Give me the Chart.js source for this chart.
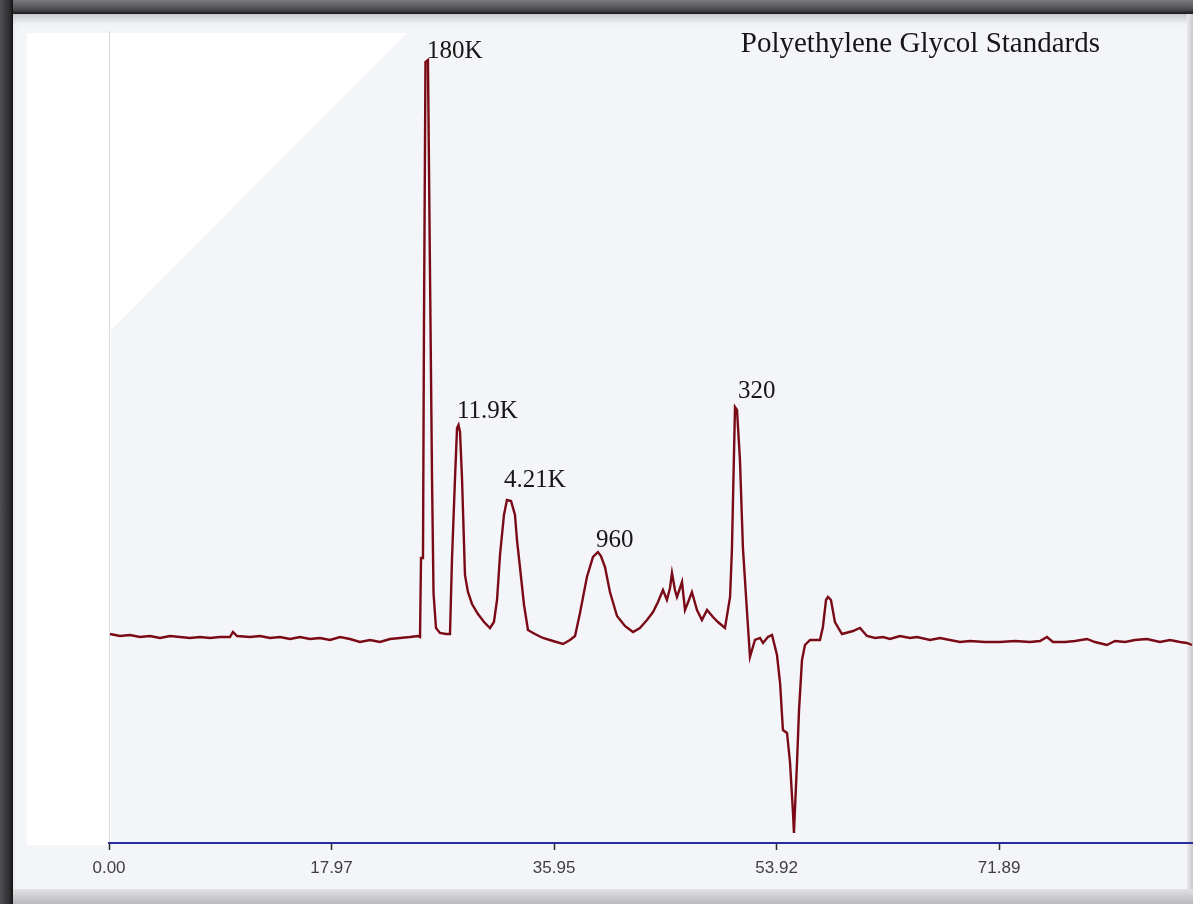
<!DOCTYPE html>
<html>
<head>
<meta charset="utf-8">
<title>Polyethylene Glycol Standards</title>
<script src="https://cdn.jsdelivr.net/npm/chart.js@4.4.1/dist/chart.umd.min.js"></script>
<style>
  html, body { margin: 0; padding: 0; }
  body { width: 1193px; height: 904px; overflow: hidden; position: relative; background: #5a5a5e; }
  .abs { position: absolute; }
  #frameTop { left: 0; top: 0; width: 1193px; height: 14px; background: linear-gradient(#7a7a7f, #4a4a4e 70%, #161616); }
  #frameLeft { left: 0; top: 0; width: 13px; height: 904px; background: linear-gradient(90deg, #505054, #2c2c2e 75%, #121212); }
  #panel { left: 13px; top: 14px; width: 1180px; height: 876px; background: #f4f5f8; box-shadow: inset 0 8px 10px -4px rgba(0,0,0,0.22); }
  #frameRight { left: 1187px; top: 14px; width: 6px; height: 876px; background: linear-gradient(90deg, #ececee, #c8c8cc); }
  #frameBottom { left: 13px; top: 889px; width: 1180px; height: 15px; background: linear-gradient(#e2e2e5, #b8b8bd); }
  #whiteArea { left: 27px; top: 33px; width: 380px; height: 812px; background: #ffffff;
    clip-path: polygon(0 0, 380px 0, 84px 297px, 84px 812px, 0 812px); }
  #wrap { left: 0; top: 0; width: 1193px; height: 904px; }
</style>
</head>
<body>
<div id="frameTop" class="abs"></div>
<div id="frameLeft" class="abs"></div>
<div id="panel" class="abs"></div>
<div id="frameRight" class="abs"></div>
<div id="frameBottom" class="abs"></div>
<div id="whiteArea" class="abs"></div>
<div id="wrap" class="abs"><canvas id="gpc"></canvas></div>
<script>
// Chromatogram trace (retention time vs. detector signal)
const retentionTimes = [
  0.08, 0.89, 1.70, 2.50, 3.31, 4.12, 4.93, 5.73, 6.54, 7.35,
  8.16, 8.96, 9.77, 10.01, 10.34, 11.39, 12.20, 13.00, 13.81, 14.62,
  15.43, 16.23, 17.04, 17.85, 18.66, 19.46, 20.27, 21.08, 21.89, 22.69,
  23.50, 24.31, 24.96,
  25.12, 25.20, 25.36, 25.44, 25.56, 25.76, 25.92, 26.09, 26.21, 26.41,
  26.73, 27.22, 27.54, 27.70, 27.94, 28.11, 28.23, 28.35, 28.51, 28.75,
  28.99, 29.32, 29.80, 30.29, 30.77, 31.09, 31.34, 31.58, 31.90, 32.14,
  32.47, 32.79, 32.95, 33.19, 33.52, 33.84, 34.40, 35.05, 35.86, 36.67,
  37.23, 37.64, 38.04, 38.60, 39.09, 39.49, 39.73, 40.06, 40.46, 41.03,
  41.67, 42.32, 42.88, 43.45, 43.94, 44.34, 44.74, 45.06, 45.31, 45.47,
  45.71, 45.87, 46.12, 46.28, 46.52, 46.84, 47.08, 47.49, 47.89, 48.30,
  48.78, 49.18, 49.75, 50.16, 50.31, 50.56, 50.72, 50.96, 51.20, 51.53,
  51.77, 52.17, 52.58, 52.82, 53.22, 53.55, 53.95, 54.20, 54.43, 54.76,
  55.00, 55.24, 55.32, 55.57, 55.73, 55.97, 56.21, 56.62, 57.02, 57.42,
  57.66, 57.91, 58.07, 58.31, 58.63, 59.20, 60.09, 60.65, 61.22, 61.87,
  62.51, 63.08, 63.88, 64.69, 65.26, 66.31, 67.11, 67.92, 68.73, 69.54,
  70.75, 71.96, 73.17, 74.38, 75.19, 75.76, 76.24, 77.21, 78.02, 78.99,
  79.63, 80.60, 81.25, 82.06, 82.86, 83.83, 84.88, 85.69, 86.50, 87.06,
  87.47
];
const signal = [
  1.5, 1.0, 1.25, 0.75, 1.0, 0.5, 1.0, 0.75, 0.5, 0.75,
  0.5, 0.75, 0.75, 2.0, 1.0, 0.75, 1.0, 0.5, 0.75, 0.25,
  0.75, 0.25, 0.5, 0, 0.75, 0.25, -0.5, 0, -0.5, 0.25,
  0.5, 0.75, 1.0,
  0.75, 20.5, 20.5, 79.5, 144.5, 145, 93.75, 40.25, 11.75, 3.0,
  1.75, 1.5, 1.5, 20, 40, 53, 53.75, 52, 40.5, 16.25,
  12, 9, 6.5, 4.5, 3, 4.5, 10, 21.25, 31.25, 35,
  34.75, 31.25, 25, 18.25, 8.75, 2.5, 1.5, 0.5, -0.25, -1.0,
  0, 1.0, 6.75, 15.75, 20.75, 22, 21, 18.25, 12, 6,
  3.5, 2, 3, 5, 7, 9.5, 12.5, 10, 13, 16.75,
  12.5, 10.75, 13, 14.5, 7.5, 10, 12, 7.5, 5, 7.5,
  5.75, 4.5, 3, 10.75, 22.5, 58.25, 57.5, 45, 23, 7,
  -4.25, 0, 0.5, -0.75, 0.75, 1.25, -3.75, -10.75, -22.5, -23.25,
  -30.5, -43, -48.25, -30.5, -17.5, -5, -1.25, 0, 0, 0,
  3.25, 10, 10.75, 10, 4.5, 1.5, 2.25, 3, 1.0, 0.5,
  0.75, 0.25, 1.0, 0.5, 0.75, 0, 0.5, 0, -0.5, -0.25,
  -0.5, -0.5, -0.25, -0.5, -0.25, 0.75, -0.5, -0.5, -0.25, 0.25,
  -0.5, -1.25, -0.25, -0.5, 0, 0.25, -0.5, 0, -0.5, -0.75,
  -1.25
];

// Molecular weight labels of the standards and where they sit (data units)
const peakLabels = ['180K', '11.9K', '4.21K', '960', '320'];
const labelTimes = [25.68, 28.11, 31.90, 39.33, 50.80];
const labelHeights = [145.5, 55.5, 38.25, 23.25, 60.5];

const tickValues = [0.00, 17.97, 35.95, 53.92, 71.89];
const chartTitle = 'Polyethylene Glycol Standards';

// Draws the peak labels and the title in the plot
const labelPlugin = {
  id: 'peakLabels',
  afterDatasetsDraw(chart) {
    const {ctx, chartArea} = chart;
    const x = chart.scales.x, y = chart.scales.y;
    ctx.save();
    ctx.fillStyle = '#161616';
    ctx.textBaseline = 'alphabetic';
    ctx.textAlign = 'left';
    ctx.font = '25px "Liberation Serif", "Times New Roman", serif';
    peakLabels.forEach((txt, i) => {
      ctx.fillText(txt, x.getPixelForValue(labelTimes[i]), y.getPixelForValue(labelHeights[i]));
    });
    ctx.font = '29px "Liberation Serif", "Times New Roman", serif';
    ctx.textAlign = 'right';
    ctx.fillText(chartTitle, chartArea.right - 93, chartArea.top + 21);
    ctx.restore();
  }
};

new Chart('gpc', {
  type: 'line',
  data: {
    datasets: [{
      data: retentionTimes.map((t, i) => ({x: t, y: signal[i]})),
      borderColor: '#7a0a16',
      borderWidth: 2.4,
      pointRadius: 0,
      fill: false,
      tension: 0
    }]
  },
  options: {
    responsive: true,
    maintainAspectRatio: false,
    animation: false,
    layout: {padding: {left: 109, right: 0, top: 31, bottom: 11}},
    plugins: {legend: {display: false}, tooltip: {enabled: false}, title: {display: false}},
    scales: {
      x: {
        type: 'linear',
        min: 0,
        max: 87.55,
        afterBuildTicks: s => { s.ticks = tickValues.map(v => ({value: v})); },
        afterFit: s => { s.height = 50; },
        ticks: {
          callback: v => v.toFixed(2),
          color: '#404040',
          font: {family: '"Liberation Sans", Arial, sans-serif', size: 17},
          padding: 8,
          maxRotation: 0,
          autoSkip: false
        },
        grid: {
          drawOnChartArea: true,
          color: c => c.index === 0 ? 'rgba(200,200,212,0.7)' : 'rgba(0,0,0,0)',
          tickColor: '#2a2a2a',
          tickLength: 7,
          tickWidth: 1.5
        },
        border: {display: true, color: '#2b2ba0', width: 2}
      },
      y: {
        display: false,
        min: -50.75,
        max: 152.25
      }
    }
  },
  plugins: [labelPlugin]
});
</script>
</body>
</html>
